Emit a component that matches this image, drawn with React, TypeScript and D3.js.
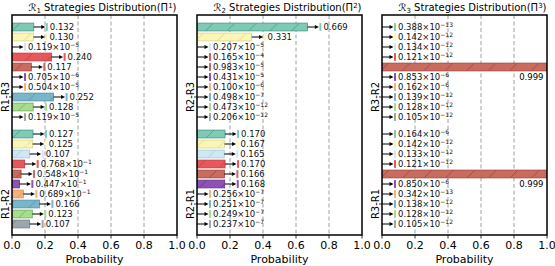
import React, { useEffect, useRef } from 'react';
import * as d3 from 'd3';

// bar colours per strategy row (face + edge/hatch)
const faceColors = ['#7fc9b6', '#fbf6b5', '#cfe8f3', '#e8575b', '#c96b5f', '#8d52b3', '#f5b37c', '#7ab6ca', '#a9dc8d', '#9ba6ae'];
const edgeColors = ['#3f9c85', '#ddd38a', '#9ccbe0', '#c13b40', '#9e4339', '#6a3290', '#d98c4e', '#4d8fa8', '#6cae5a', '#737e86'];

const r1r3 = [0.132, 0.130, 0.119e-5, 0.240, 0.117, 0.705e-6, 0.504e-5, 0.252, 0.128, 0.119e-5];
const r1r2 = [0.127, 0.125, 0.107, 0.768e-1, 0.548e-1, 0.447e-1, 0.689e-1, 0.166, 0.123, 0.107];
const r2r3 = [0.669, 0.331, 0.207e-5, 0.165e-4, 0.983e-5, 0.431e-5, 0.100e-6, 0.498e-7, 0.473e-12, 0.206e-12];
const r2r1 = [0.170, 0.167, 0.165, 0.170, 0.166, 0.168, 0.256e-7, 0.251e-7, 0.249e-7, 0.237e-7];
const r3r2 = [0.388e-13, 0.142e-12, 0.134e-12, 0.121e-12, 0.999, 0.853e-6, 0.162e-6, 0.139e-12, 0.128e-12, 0.105e-12];
const r3r1 = [0.164e-6, 0.142e-12, 0.133e-12, 0.121e-12, 0.999, 0.850e-6, 0.342e-13, 0.138e-12, 0.128e-12, 0.105e-12];

const panelIds = [1, 2, 3];
const groupNames = [['R1-R3', 'R1-R2'], ['R2-R3', 'R2-R1'], ['R3-R2', 'R3-R1']];
const groupValues = [[r1r3, r1r2], [r2r3, r2r1], [r3r2, r3r1]];
const xTicks = [0, 0.2, 0.4, 0.6, 0.8, 1.0];
const gridTicks = [0.2, 0.4, 0.6, 0.8];

const FONT = 'DejaVu Sans, sans-serif';
const GROUP_STEP = 10.7;

function splitValue(v: number) {
    if (v >= 0.1) return { m: v.toFixed(3), e: null as number | null };
    const e = Math.floor(Math.log10(v)) + 1;
    const m = v / Math.pow(10, e);
    return { m: m.toFixed(3), e };
}

export default function App() {
    const ref = useRef<SVGSVGElement | null>(null);

    useEffect(() => {
        const el = ref.current;
        if (!el) return;
        el.innerHTML = '';
        const svg = d3.select(el);
        const defs = svg.append('defs');

        faceColors.forEach((c, i) => {
            const p = defs.append('pattern')
                .attr('id', `hatch-${i}`)
                .attr('patternUnits', 'userSpaceOnUse')
                .attr('width', 21.5).attr('height', 21.5);
            p.append('rect').attr('width', 21.5).attr('height', 21.5).attr('fill', c);
            p.append('path')
                .attr('d', 'M-2,23.5L23.5,-2M-4,4L4,-4M17.5,25.5L25.5,17.5')
                .attr('stroke', edgeColors[i]).attr('stroke-width', 0.8);
        });

        panelIds.forEach((pid, pi) => {
            const left = 12 + pi * 185;
            const x = d3.scaleLinear().domain([0, 1]).range([left, left + 165]);
            const y = d3.scaleLinear().domain([-1.2, 20.8]).range([15, 235]);
            const bh = y(0.78) - y(0);

            defs.append('clipPath').attr('id', `clip-${pi}`)
                .append('rect').attr('x', x(0)).attr('y', 15).attr('width', x(1) - x(0)).attr('height', 220);

            const g = svg.append('g');

            // grid
            g.selectAll('line.grid').data(gridTicks).join('line')
                .attr('x1', d => x(d)).attr('x2', d => x(d))
                .attr('y1', 15).attr('y2', 235)
                .attr('stroke', '#a0a0a0').attr('stroke-width', 1)
                .attr('stroke-dasharray', '4,2.5');

            const plot = g.append('g').attr('clip-path', `url(#clip-${pi})`);

            groupValues[pi].forEach((vals, gi) => {
                vals.forEach((v, ri) => {
                    const pos = gi * GROUP_STEP + ri;
                    const cy = y(pos);
                    const x0 = x(0);
                    const xv = x(v);
                    plot.append('rect')
                        .attr('x', x0).attr('y', cy - bh / 2)
                        .attr('width', Math.max(0, xv - x0)).attr('height', bh)
                        .attr('fill', `url(#hatch-${ri})`)
                        .attr('stroke', v > 1e-3 ? edgeColors[ri] : 'none')
                        .attr('stroke-width', 0.8);

                    const parts = splitValue(v);
                    if (v > 0.9) {
                        plot.append('text')
                            .attr('x', x(1) - 3.5).attr('y', y(pos + 1) + 3)
                            .attr('text-anchor', 'end')
                            .attr('font-family', FONT).attr('font-size', 8.5)
                            .text(parts.m);
                        return;
                    }
                    const tip = xv + 11.5;
                    plot.append('line')
                        .attr('x1', xv).attr('x2', tip - 3)
                        .attr('y1', cy).attr('y2', cy)
                        .attr('stroke', '#000').attr('stroke-width', 1);
                    plot.append('path')
                        .attr('d', `M${tip},${cy}L${tip - 4},${cy - 2}L${tip - 4},${cy + 2}Z`)
                        .attr('fill', '#000');
                    plot.append('rect')
                        .attr('x', xv + 12).attr('y', cy - bh / 2)
                        .attr('width', 2).attr('height', bh)
                        .attr('fill', faceColors[ri]);

                    const t = plot.append('text')
                        .attr('x', xv + 16).attr('y', cy + 3)
                        .attr('font-family', FONT).attr('font-size', 8.5)
                        .attr('fill', '#111');
                    if (parts.e === null) {
                        t.text(parts.m);
                    } else {
                        t.append('tspan').text(`${parts.m}\u00d710`);
                        t.append('tspan').attr('dy', -3.5).attr('font-size', 6)
                            .text(`\u2212${Math.abs(parts.e)}`);
                    }
                });

                // y tick + label
                const ty = y(gi * GROUP_STEP + 7);
                g.append('line')
                    .attr('x1', left - 3).attr('x2', left)
                    .attr('y1', ty).attr('y2', ty)
                    .attr('stroke', '#000').attr('stroke-width', 0.8);
                g.append('text')
                    .attr('transform', `translate(${left - 3},${ty}) rotate(-90)`)
                    .attr('text-anchor', 'middle')
                    .attr('font-family', FONT).attr('font-size', 10)
                    .text(groupNames[pi][gi]);
            });

            // frame
            g.append('rect')
                .attr('x', x(0)).attr('y', 15)
                .attr('width', x(1) - x(0)).attr('height', 220)
                .attr('fill', 'none').attr('stroke', '#000').attr('stroke-width', 1.5);

            // x axis
            g.selectAll('line.xt').data(xTicks).join('line')
                .attr('x1', d => x(d)).attr('x2', d => x(d))
                .attr('y1', 235).attr('y2', 238.5)
                .attr('stroke', '#000').attr('stroke-width', 0.8);
            g.selectAll('text.xt').data(xTicks).join('text')
                .attr('x', d => x(d)).attr('y', 249)
                .attr('text-anchor', 'middle')
                .attr('font-family', FONT).attr('font-size', 11)
                .text(d => d.toFixed(1));
            g.append('text')
                .attr('x', x(0.5)).attr('y', 262.5)
                .attr('text-anchor', 'middle')
                .attr('font-family', FONT).attr('font-size', 11)
                .text('Probability');

            // title
            const title = g.append('text')
                .attr('x', x(0.5) + 8).attr('y', 11)
                .attr('text-anchor', 'middle')
                .attr('font-family', FONT).attr('font-size', 10);
            title.append('tspan').text('\u211b');
            title.append('tspan').attr('dy', 2).attr('font-size', 7).text(`${pid}`);
            title.append('tspan').attr('dy', -2).text(' Strategies Distribution(\u03a0');
            title.append('tspan').attr('dy', -3.5).attr('font-size', 7).text(`${pid}`);
            title.append('tspan').attr('dy', 3.5).text(')');
        });
    }, []);

    return (
        <div style={{ position: 'absolute', left: 0, top: 0, background: '#fff' }}>
            <svg ref={ref} width={555} height={266} style={{ display: 'block' }} />
        </div>
    );
}
